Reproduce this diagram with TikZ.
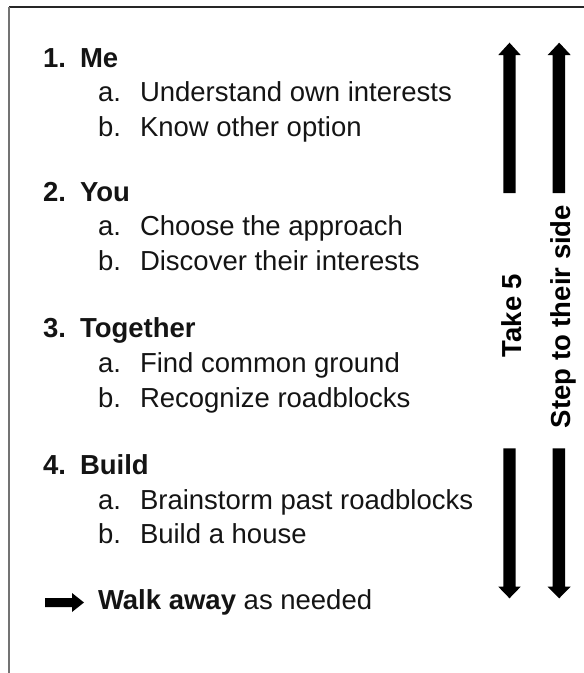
\documentclass[tikz,border=0pt]{standalone}
\usepackage{fontspec}
\setmainfont{Liberation Sans}
\begin{document}
\begin{tikzpicture}[x=1pt,y=-1pt,
  txt/.style={anchor=base west,inner sep=0pt,outer sep=0pt,font=\fontsize{27.5}{33}\selectfont,text=black!92},
  hd/.style={txt,font=\fontsize{27.5}{33}\selectfont\bfseries},
  vtxt/.style={inner sep=0pt,outer sep=0pt,rotate=90,anchor=base,font=\fontsize{27.5}{33}\selectfont\bfseries},
  arr/.style={fill=black,draw=none}]
\useasboundingbox (0,0) rectangle (584,673);
% frame
\draw[line width=1.3pt,black!85] (9,7) -- (584,7);
\draw[line width=1.4pt,black!55] (9,7) -- (9,673);
% list
\node[hd] (n1) at (43,67) {1.};
\node[hd] (h1) at (80,67) {Me};
\node[txt] (a1) at (98,101) {a.};
\node[txt] (t1a) at (140,101) {Understand own interests};
\node[txt] (b1) at (98,136) {b.};
\node[txt] (t1b) at (140,136) {Know other option};
\node[hd] (n2) at (43,201) {2.};
\node[hd] (h2) at (80,201) {You};
\node[txt] (a2) at (98,235) {a.};
\node[txt] (t2a) at (140,235) {Choose the approach};
\node[txt] (b2) at (98,270) {b.};
\node[txt] (t2b) at (140,270) {Discover their interests};
\node[hd] (n3) at (43,337) {3.};
\node[hd] (h3) at (80,337) {Together};
\node[txt] (a3) at (98,372) {a.};
\node[txt] (t3a) at (140,372) {Find common ground};
\node[txt] (b3) at (98,407) {b.};
\node[txt] (t3b) at (140,407) {Recognize roadblocks};
\node[hd] (n4) at (43,474) {4.};
\node[hd] (h4) at (80,474) {Build};
\node[txt] (a4) at (98,509) {a.};
\node[txt] (t4a) at (140,509) {Brainstorm past roadblocks};
\node[txt] (b4) at (98,543) {b.};
\node[txt] (t4b) at (140,543) {Build a house};
% walk away
\fill[arr] (45,598) -- (72,598) -- (72,593) -- (84,602.5) -- (72,612) -- (72,607) -- (45,607) -- cycle;
\node[txt] (walk) at (98,609) {\textbf{Walk away} as needed};
% vertical arrows
\fill[arr] (503.3,193) -- (503.3,55) -- (498.3,55) -- (509.5,42.7) -- (520.7,55) -- (515.7,55) -- (515.7,193) -- cycle;
\fill[arr] (552.7,193) -- (552.7,55) -- (547.7,55) -- (559.2,42.7) -- (570.7,55) -- (565,55) -- (565,193) -- cycle;
\fill[arr] (503.3,448.3) -- (503.3,586.7) -- (498.3,586.7) -- (509.5,598.3) -- (520.7,586.7) -- (515.7,586.7) -- (515.7,448.3) -- cycle;
\fill[arr] (552.7,448.3) -- (552.7,586.7) -- (547.7,586.7) -- (559.2,598.3) -- (570.7,586.7) -- (565,586.7) -- (565,448.3) -- cycle;
% rotated labels
\node[vtxt] (take) at (521.7,315.5) {Take 5};
\node[vtxt] (step) at (570,316.5) {Step to their side};
\end{tikzpicture}
\end{document}
